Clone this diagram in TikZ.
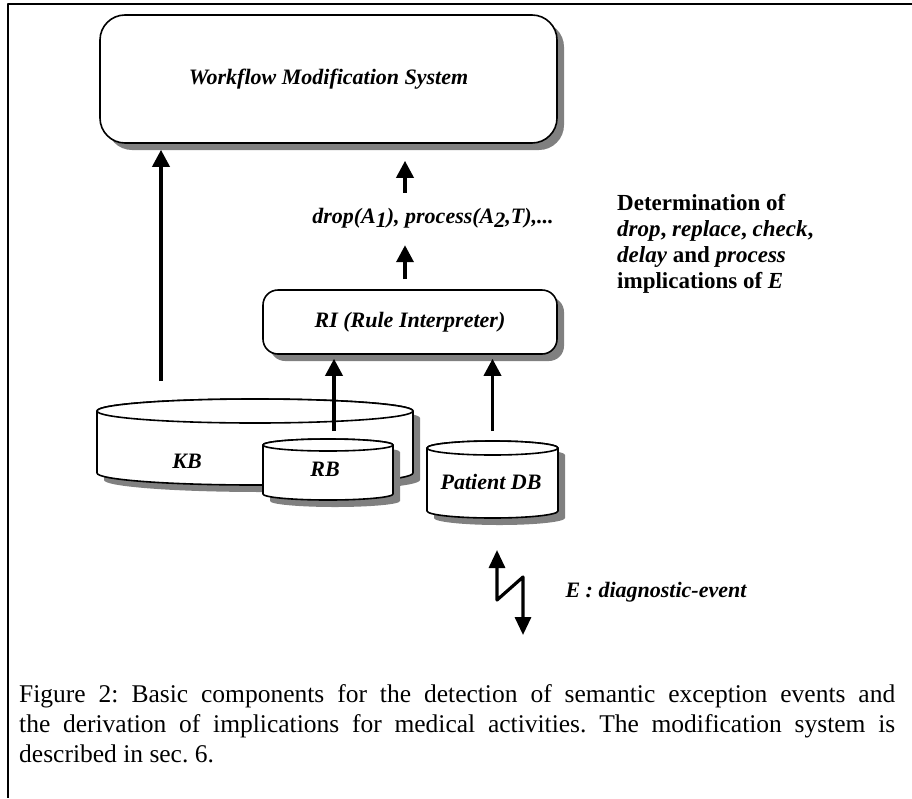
\documentclass[tikz,border=0pt]{standalone}
\usepackage{fontspec}
\setmainfont{Liberation Serif}
\usetikzlibrary{arrows.meta, shadows}

\tikzset{
  fatarrow/.style={line width=3.6pt, -{Triangle[width=17pt,length=17pt]}},
  boltarrow/.style={line width=3.2pt, {Triangle[width=16pt,length=18pt]}-{Triangle[width=16pt,length=18pt]}},
  labeltext/.style={font=\fontsize{22}{26}\selectfont\bfseries\itshape},
  roundbox/.style={draw, line width=1.6pt, fill=white, rounded corners=#1,
    drop shadow={shadow xshift=7pt, shadow yshift=-7pt, fill=black!50, opacity=1}},
  drumline/.style={draw, line width=1.6pt, fill=white},
  drumshadow/.style={fill=black!50},
}

% #1 name, #2 centre x, #3 top, #4 bottom, #5 half width, #6 ellipse radius
\newcommand{\dbdrum}[6]{%
  \fill[drumshadow] (#2-#5+7,#3+7) -- (#2-#5+7,#4+7)
    arc[start angle=180, end angle=0, x radius=#5, y radius=#6]
    -- (#2+#5+7,#3+7)
    arc[start angle=0, end angle=-180, x radius=#5, y radius=#6] -- cycle;
  \draw[drumline] (#2-#5,#3) -- (#2-#5,#4)
    arc[start angle=180, end angle=0, x radius=#5, y radius=#6]
    -- (#2+#5,#3)
    arc[start angle=0, end angle=-180, x radius=#5, y radius=#6] -- cycle;
  \draw[drumline] (#2,#3) ellipse [x radius=#5, y radius=#6];
  \coordinate (#1-top) at (#2,#3-#6);
}

\begin{document}
\begin{tikzpicture}[x=1pt, y=-1pt, line join=round]
\useasboundingbox (0,0) rectangle (912,798);
% frame of the figure
\draw[line width=2pt] (912,3.7) -- (7.8,3.7) -- (7.8,798);

% boxes
\node[roundbox=25pt, minimum width=457pt, minimum height=128pt, labeltext] (wms) at (328.5,79) {Workflow Modification System};
\node[roundbox=15pt, minimum width=294pt, minimum height=64pt, labeltext] (ri) at (410,322) {RI (Rule Interpreter)};
\node[labeltext] (actions) at (433,218) {drop(A\raisebox{-4pt}{1}), process(A\raisebox{-4pt}{2},T),...};

% data stores
\dbdrum{kb}{255}{411}{473}{158}{12}
\dbdrum{rb}{328}{445}{494}{65}{6}
\dbdrum{pdb}{492.5}{448}{511}{65.5}{7}
\node[labeltext] (kb) at (187,461) {KB};
\node[labeltext] (rb) at (325,469) {RB};
\node[labeltext] (pdb) at (491,482) {Patient DB};

% arrows
\coordinate (kb-out) at (161,381);
\coordinate (up-x) at (405,0);
\draw[fatarrow] (kb-out) -- ([yshift=-6pt]kb-out |- wms.south);
\draw[fatarrow] ([yshift=-49pt]wms.south -| up-x) -- ([yshift=-17pt]wms.south -| up-x);
\draw[fatarrow] ([yshift=10pt]ri.north -| up-x) -- ([yshift=44pt]ri.north -| up-x);
\draw[fatarrow] ([xshift=6pt,yshift=8pt]rb-top) -- ([xshift=6pt,yshift=-4pt]rb-top |- ri.south);
\draw[fatarrow] ([yshift=10pt]pdb-top) -- ([yshift=-4pt]pdb-top |- ri.south);

% incoming event
\coordinate (ev-top) at (497,550);
\coordinate (ev-bot) at (523,635);
\draw[boltarrow] (ev-top) -- ++(0,50) -- ++(26,-23) -- (ev-bot);
\node[labeltext, anchor=west] (event) at (562,592) {E : diagnostic-event};

% explanation
\node[font=\fontsize{23}{26}\selectfont\bfseries, align=left, anchor=west, inner sep=0pt] (note) at (617,244)
  {Determination of\\ \textit{drop}, \textit{replace}, \textit{check},\\ \textit{delay} and \textit{process}\\ implications of \textit{E}};

% caption
\node[anchor=north west, inner sep=0pt, text width=876pt, align=justify,
  font=\fontsize{25.5}{30}\selectfont\frenchspacing] (caption) at (19,684)
  {Figure 2: Basic components for the detection of semantic exception events and\linebreak
   the derivation of implications for medical activities. The modification system is\linebreak
   described in sec. 6.};
\end{tikzpicture}
\end{document}
